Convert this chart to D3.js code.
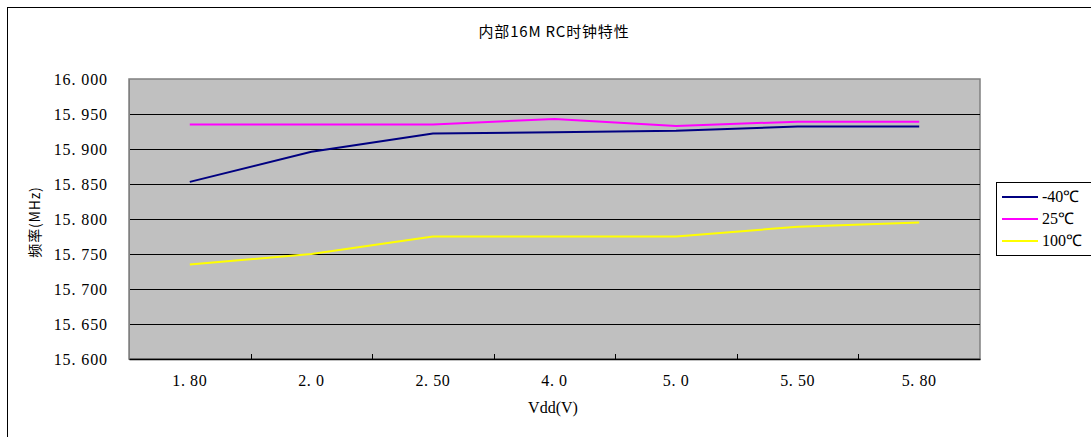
<!DOCTYPE html>
<html><head><meta charset="utf-8">
<script src="https://cdn.jsdelivr.net/npm/d3@7"></script>
<style>body{margin:0;background:#fff}svg{display:block}</style>
</head><body>
<svg id="c" width="1091" height="437"></svg>
<script>
const categories = ["1.80","2.0","2.50","4.0","5.0","5.50","5.80"];
const seriesNames = ["-40\u2103","25\u2103","100\u2103"];
const sMinus40 = [15.853,15.896,15.922,15.924,15.926,15.932,15.932];
const s25 = [15.935,15.935,15.935,15.943,15.933,15.939,15.939];
const s100 = [15.735,15.750,15.775,15.775,15.775,15.789,15.795];
const yTicks = [15.600,15.650,15.700,15.750,15.800,15.850,15.900,15.950,16.000];
const colors = ["#000080","#FF00FF","#FFFF00"];
const series = [sMinus40, s25, s100];

const svg = d3.select("#c");
const L = 129, R = 980, T = 79, B = 359;
const numFont = "'Liberation Serif', serif";
const cjkFont = "'Noto Sans CJK SC', sans-serif";

svg.append("rect").attr("x",7.5).attr("y",7.5).attr("width",1100).attr("height",440)
  .attr("fill","#fff").attr("stroke","#000").attr("stroke-width",1);

const x = d3.scaleBand().domain(categories).range([L,R]).padding(0);
const y = d3.scaleLinear().domain([15.6,16.0]).range([B,T]);

svg.append("rect").attr("x",L).attr("y",T).attr("width",R-L).attr("height",B-T)
  .attr("fill","#C0C0C0").attr("stroke","#808080").attr("stroke-width",1.5);

svg.append("g").selectAll("line").data(yTicks.slice(1,-1)).join("line")
  .attr("x1",L).attr("x2",R).attr("y1",d=>Math.round(y(d))+0.5).attr("y2",d=>Math.round(y(d))+0.5)
  .attr("stroke","#000").attr("stroke-width",1);

const ya = svg.append("g").attr("transform",`translate(${L},0)`)
  .call(d3.axisLeft(y).tickValues(yTicks).tickFormat(d=>d3.format(".3f")(d).replace(".",". ")).tickSize(0).tickPadding(21));
ya.select(".domain").attr("stroke","#808080");
ya.selectAll("text").attr("font-family",numFont).attr("font-size",16).attr("fill","#000").attr("letter-spacing","0.9px");

const xa = svg.append("g").attr("transform",`translate(0,${B})`)
  .call(d3.axisBottom(x).tickSize(0).tickPadding(16).tickFormat(d=>d.replace(".",". ")));
xa.select(".domain").attr("stroke","#000").attr("stroke-width",1.5);
xa.selectAll("text").attr("font-family",numFont).attr("font-size",16).attr("fill","#000").attr("letter-spacing","0.6px");
svg.append("g").selectAll("line").data(categories.slice(1)).join("line")
  .attr("x1",d=>Math.round(x(d))+0.5).attr("x2",d=>Math.round(x(d))+0.5)
  .attr("y1",B-5).attr("y2",B).attr("stroke","#000");

const line = d3.line().x((d,i)=>x(categories[i])+x.bandwidth()/2).y(d=>y(d));
series.forEach((s,k)=>{
  svg.append("path").datum(s).attr("d",line).attr("fill","none")
    .attr("stroke",colors[k]).attr("stroke-width",2);
});

svg.append("text").attr("x",554).attr("y",37).attr("text-anchor","middle")
  .attr("font-family",cjkFont).attr("font-size",15).attr("letter-spacing","0.8px").text("内部16M RC时钟特性");
svg.append("text").attr("x",553).attr("y",413).attr("text-anchor","middle")
  .attr("font-family",numFont).attr("font-size",16).text("Vdd(V)");
svg.append("text").attr("transform","translate(40,222) rotate(-90)").attr("text-anchor","middle")
  .attr("font-family",cjkFont).attr("font-size",14).attr("letter-spacing","0.8px").text("频率(MHz)");

const lg = svg.append("g");
lg.append("rect").attr("x",996.5).attr("y",182.5).attr("width",100).attr("height",73)
  .attr("fill","#fff").attr("stroke","#000");
seriesNames.forEach((n,i)=>{
  const yy = 197 + i*22;
  lg.append("line").attr("x1",1002).attr("x2",1038).attr("y1",yy).attr("y2",yy)
    .attr("stroke",colors[i]).attr("stroke-width",2);
  lg.append("text").attr("x",1042).attr("y",yy+5).attr("font-family",numFont).attr("font-size",16).text(n);
});
</script>
</body></html>
